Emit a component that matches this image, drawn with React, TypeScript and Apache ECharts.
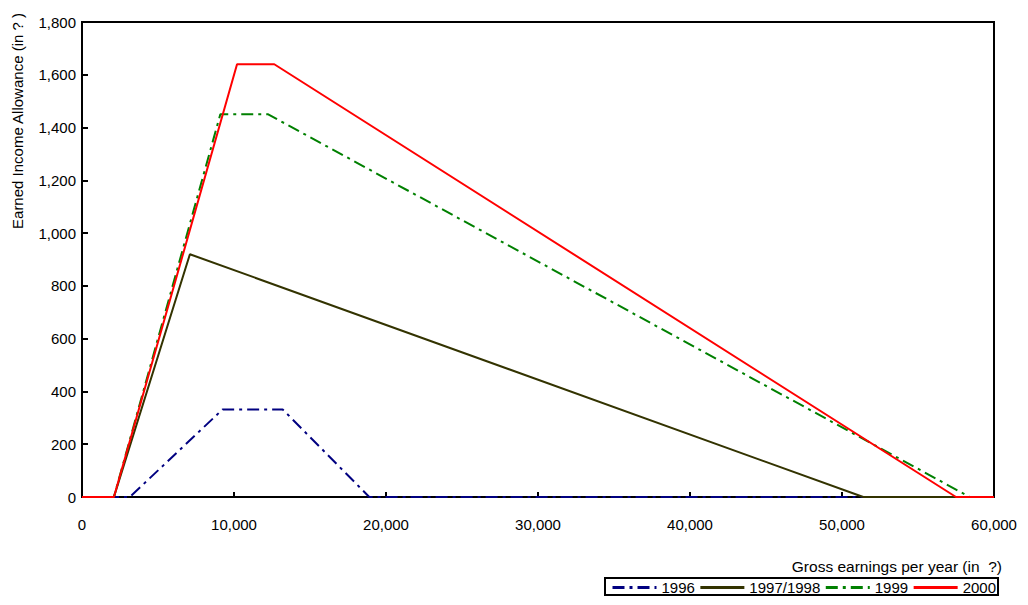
import React, { useEffect, useRef } from "react";
import * as echarts from "echarts";

const seriesNames = ["1996", "1997/1998", "1999", "2000"];
const colors = ["#000080", "#333300", "#008000", "#ff0000"];
const data1996: [number, number][] = [[0, 0], [3150, 0], [9250, 332], [13200, 332], [18900, 0], [60000, 0]];
const data1997: [number, number][] = [[0, 0], [2100, 0], [7100, 920], [51400, 0], [60000, 0]];
const data1999: [number, number][] = [[0, 0], [2100, 0], [9100, 1450], [12250, 1450], [58400, 0], [60000, 0]];
const data2000: [number, number][] = [[0, 0], [2100, 0], [10200, 1640], [12650, 1640], [57500, 0], [60000, 0]];
const xTitle = "Gross earnings per year (in  ?)";
const yTitle = "Earned Income Allowance (in ? )";

const FONT = "Liberation Sans, Arial, sans-serif";

export default function App() {
  const ref = useRef<HTMLDivElement>(null);
  useEffect(() => {
    document.body.style.margin = "0";
    const chart = echarts.init(ref.current!, null, { renderer: "svg" });
    const all = [data1996, data1997, data1999, data2000];
    const dashes: any[] = [[12, 5, 3, 5], "solid", [12, 5, 3, 5], "solid"];
    chart.setOption({
      animation: false,
      textStyle: { fontFamily: FONT },
      grid: {
        left: 82,
        right: 34,
        top: 22,
        bottom: 108,
        show: true,
        borderColor: "#000",
        borderWidth: 2,
      },
      xAxis: {
        type: "value",
        min: 0,
        max: 60000,
        interval: 10000,
        splitLine: { show: false },
        axisLine: { lineStyle: { color: "#000", width: 2 } },
        axisTick: { inside: true, length: 5, lineStyle: { color: "#000", width: 2 } },
        axisLabel: {
          color: "#000",
          fontSize: 15,
          fontFamily: FONT,
          margin: 20,
          formatter: (v: number) => v.toLocaleString("en-US"),
        },
      },
      yAxis: {
        type: "value",
        min: 0,
        max: 1800,
        interval: 200,
        splitLine: { show: false },
        axisLine: { lineStyle: { color: "#000", width: 2 } },
        axisTick: { inside: true, length: 6, lineStyle: { color: "#000", width: 2 } },
        axisLabel: {
          color: "#000",
          fontSize: 15,
          fontFamily: FONT,
          margin: 6,
          formatter: (v: number) => v.toLocaleString("en-US"),
        },
      },
      legend: {
        left: 605,
        top: 578,
        width: 398,
        height: 22,
        padding: [2, 2, 0, 6],
        itemGap: 4,
        itemWidth: 44,
        itemHeight: 8,
        borderColor: "#000",
        borderWidth: 2,
        borderRadius: 0,
        itemStyle: { opacity: 0 },
        lineStyle: { width: 3 },
        textStyle: { color: "#000", fontSize: 15, fontFamily: FONT, padding: [10, 0, 0, 0] },
        data: seriesNames,
      },
      graphic: [
        {
          type: "text",
          x: 17,
          y: 121,
          rotation: Math.PI / 2,
          style: {
            text: yTitle,
            fill: "#000",
            font: `15px ${FONT}`,
            textAlign: "center",
            textVerticalAlign: "middle",
          },
        },
        {
          type: "text",
          x: 1002,
          y: 566,
          style: {
            text: xTitle,
            fill: "#000",
            font: `15.5px ${FONT}`,
            textAlign: "right",
            textVerticalAlign: "middle",
          },
        },
      ],
      series: all.map((d, i) => ({
        name: seriesNames[i],
        type: "line",
        data: d,
        symbol: "none",
        showSymbol: false,
        color: colors[i],
        lineStyle: { color: colors[i], width: 2, type: dashes[i] },
      })),
    });
    return () => chart.dispose();
  }, []);
  return <div ref={ref} style={{ width: 1028, height: 605 }} />;
}
